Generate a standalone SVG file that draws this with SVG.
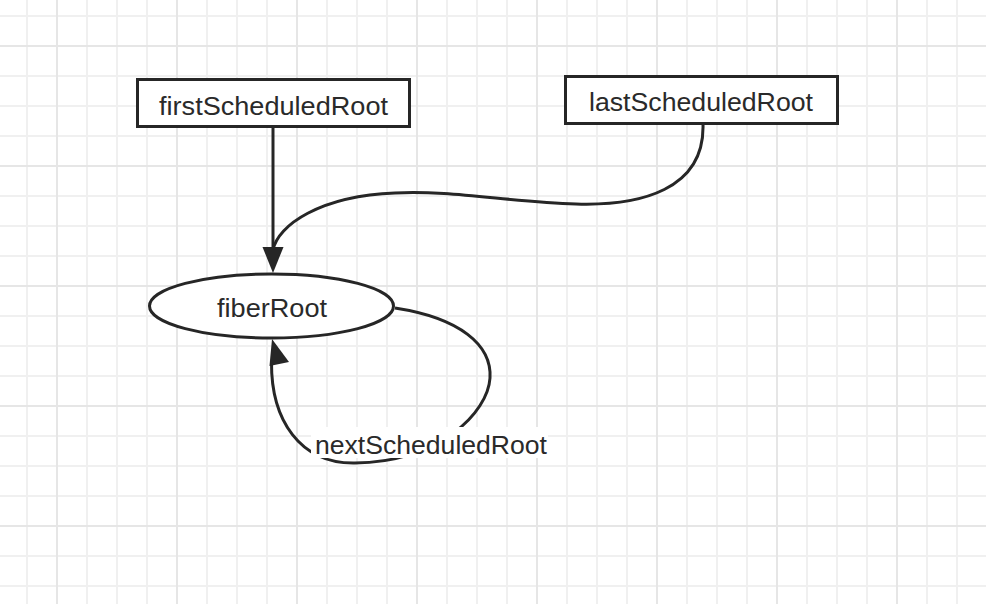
<svg xmlns="http://www.w3.org/2000/svg" width="986" height="604" viewBox="0 0 986 604">
<defs>
<pattern id="minor" x="26" y="15" width="30" height="30" patternUnits="userSpaceOnUse">
<rect x="0" y="0" width="2" height="30" fill="#f0f0f0"/>
<rect x="0" y="0" width="30" height="2" fill="#f0f0f0"/>
</pattern>
<pattern id="major" x="56" y="45" width="120" height="120" patternUnits="userSpaceOnUse">
<rect x="0" y="0" width="2" height="120" fill="#e6e6e6"/>
<rect x="0" y="0" width="120" height="2" fill="#e6e6e6"/>
</pattern>
<style>
.box{fill:#ffffff;stroke:#262626;stroke-width:3}
.lbl{font-family:"Liberation Sans",Arial,sans-serif;font-size:26.5px;fill:#2a2a2a}
.edge{fill:none;stroke:#262626;stroke-width:3}
.head{fill:#262626;stroke:none}
</style>
</defs>
<rect x="0" y="0" width="986" height="604" fill="#ffffff"/>
<rect x="0" y="0" width="986" height="604" fill="url(#minor)"/>
<rect x="0" y="0" width="986" height="604" fill="url(#major)"/>

<g id="connectors">
<path class="edge" d="M 273 127 L 273 250"/>
<path class="edge" d="M 703 124 C 705 190, 640 206, 576 204 C 510 202, 450 190, 395 193 C 320 196, 278 225, 273 250"/>
<polygon class="head" points="273,273 262.5,247 283.5,247"/>
<path class="edge" d="M 395 308 C 460 318, 492 345, 490 378 C 488 412, 440 462, 355 463 C 300 464, 271 420, 271.5 362"/>
<polygon class="head" points="272,339 269.5,366 289,362"/>
<g id="edge-label">
<rect x="311" y="427" width="237" height="31" fill="#ffffff"/>
<text class="lbl" x="315" y="454" textLength="232" lengthAdjust="spacingAndGlyphs">nextScheduledRoot</text>
</g>
</g>

<g id="firstScheduledRoot">
<rect class="box" x="137.5" y="79.5" width="272" height="47"/>
<text class="lbl" x="159" y="115" textLength="229" lengthAdjust="spacingAndGlyphs">firstScheduledRoot</text>
</g>

<g id="lastScheduledRoot">
<rect class="box" x="565.5" y="76.5" width="272" height="47"/>
<text class="lbl" x="589" y="111" textLength="224" lengthAdjust="spacingAndGlyphs">lastScheduledRoot</text>
</g>

<g id="fiberRoot">
<ellipse class="box" cx="271.5" cy="306" rx="122" ry="32"/>
<text class="lbl" x="217" y="317" textLength="110" lengthAdjust="spacingAndGlyphs">fiberRoot</text>
</g>
</svg>
